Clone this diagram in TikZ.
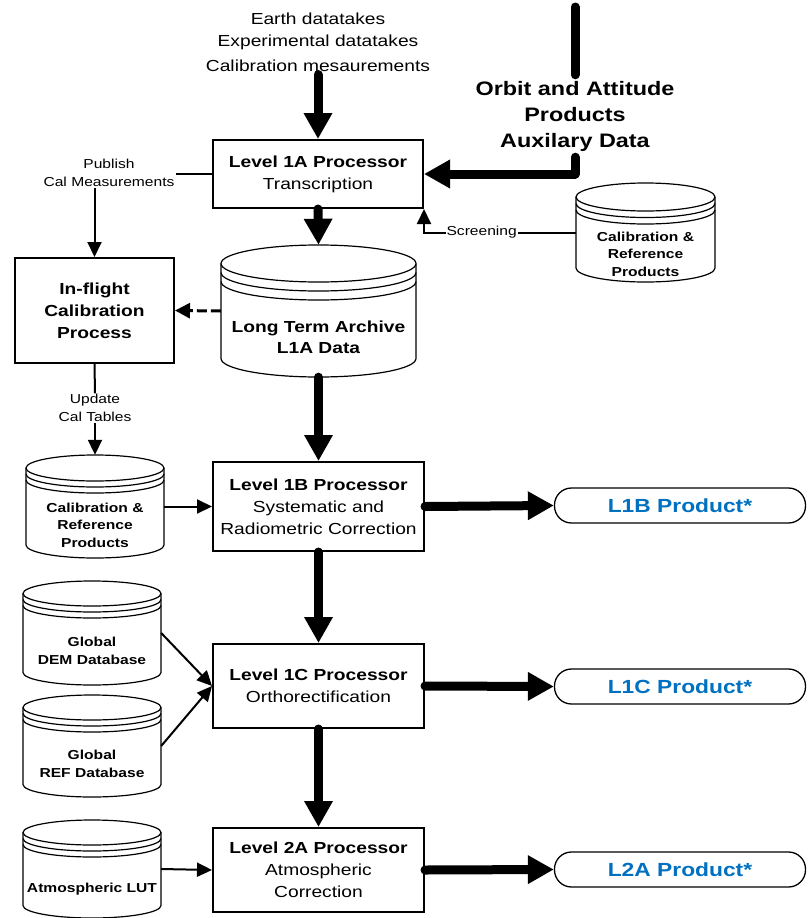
\documentclass[tikz,border=0pt]{standalone}
\usepackage{fontspec}
\setmainfont{Liberation Sans}[FakeStretch=1.2]
\usetikzlibrary{arrows.meta,calc}
\definecolor{prodblue}{HTML}{0070C0}
\newcommand\fBig{\fontsize{16}{22}\selectfont}
\newcommand\fSmall{\fontsize{13}{17.5}\selectfont}
\newcommand\fOrbit{\fontsize{19.5}{26}\selectfont\bfseries}
\newcommand\fProd{\fontsize{19}{22}\selectfont\bfseries}
% cylinder: cx, top, bottom, rx, ry, gap, name
\newcommand\drum[7]{%
  \draw[drumline] (#1-#4,#2+#5) -- (#1-#4,#3-#5)
     arc[start angle=180,end angle=360,x radius=#4pt,y radius=#5pt] -- (#1+#4,#2+#5);
  \draw[drumline] (#1,#2+#5) ellipse[x radius=#4pt,y radius=#5pt];
  \draw[drumline] (#1-#4,#2+#5+#6) arc[start angle=180,end angle=360,x radius=#4pt,y radius=#5pt];
  \draw[drumline] (#1-#4,#2+#5+2*#6) arc[start angle=180,end angle=360,x radius=#4pt,y radius=#5pt];
  \node[inner sep=0pt,minimum width={2*#4},minimum height={#3-#2}] (#7) at (#1,{(#2+#3)/2}) {};
}
\tikzset{
  proc/.style={draw,line width=2pt,minimum width=211pt,inner sep=0pt,align=center,font=\fBig},
  drumline/.style={line width=1.2pt},
  drumtext/.style={align=center,inner sep=0pt,font=\fSmall\bfseries},
  prod/.style={draw,line width=1.3pt,rounded corners=17pt,minimum width=251pt,minimum height=35pt,inner sep=0pt,font=\fProd,text=prodblue},
  bigline/.style={line width=9pt,line cap=round,line join=round},
  bigarrow/.style={line width=9pt,line cap=round,line join=round,-{Triangle[length=26pt,width=27pt]}},
  thinline/.style={line width=2pt},
  thinarrow/.style={line width=2pt,-{Triangle[length=15pt,width=14pt]}},
  dasharrow/.style={line width=3pt,dash pattern=on 10pt off 4pt,-{Triangle[length=15pt,width=15pt]}},
  lbl/.style={align=center,inner sep=1pt,font=\fSmall},
}
\begin{document}
\begin{tikzpicture}[x=1pt,y=-1pt]
\useasboundingbox (0,0) rectangle (807,918);

% processors
\node[proc,minimum width=210pt,minimum height=68pt] (l1a) at (318,174) {\textbf{Level 1A Processor}\\Transcription};
\node[proc,minimum width=159pt,minimum height=105pt] (inf) at (94.5,310.5) {\textbf{In-flight}\\\textbf{Calibration}\\\textbf{Process}};
\node[proc,minimum height=89pt] (l1b) at (318.5,506.5) {\textbf{Level 1B Processor}\\Systematic and\\Radiometric Correction};
\node[proc,minimum height=84pt] (l1c) at (318.5,686) {\textbf{Level 1C Processor}\\Orthorectification};
\node[proc,minimum height=84pt] (l2a) at (318.5,870) {\textbf{Level 2A Processor}\\Atmospheric\\Correction};

% inputs
\node[align=center,inner sep=3pt,font=\fBig] (inputs) at (318,42) {Earth datatakes\\Experimental datatakes\\[3pt]Calibration mesaurements};
\node[align=center,inner sep=0pt,minimum height=82pt,font=\fOrbit] (orbit) at (575,116) {Orbit and Attitude\\Products\\Auxilary Data};
\coordinate (otop) at (575,7);

% cylinders
\drum{318.5}{245}{377}{97.5}{18.5}{9}{lta}
\node[drumtext,font=\fontsize{16}{21.5}\selectfont\bfseries] (ltat) at (318.5,337.5) {Long Term Archive\\L1A Data};
\drum{645.5}{183}{282}{69.5}{14}{6.5}{calr}
\node[drumtext] (calrt) at (645.5,254) {Calibration \&\\Reference\\Products};
\drum{95}{455}{558}{69}{13}{6}{call}
\node[drumtext] (callt) at (95,525) {Calibration \&\\Reference\\Products};
\drum{92}{581}{685}{69}{12.5}{6}{dem}
\node[drumtext] (demt) at (92,651) {Global\\DEM Database};
\drum{92}{695}{797}{69}{12.5}{6}{ref}
\node[drumtext] (reft) at (92,764) {Global\\REF Database};
\drum{92}{820}{918}{69}{12.5}{6}{atm}
\node[drumtext] (atmt) at (92,889) {Atmospheric LUT};

% products
\node[prod] (p1b) at (680,505.5) {L1B Product*};
\node[prod] (p1c) at (680,686.5) {L1C Product*};
\node[prod] (p2a) at (680,869.5) {L2A Product*};

% labels
\node[lbl] (pub) at (109,173) {Publish\\Cal Measurements};
\node[lbl] (upd) at (95,408) {Update\\Cal Tables};

% thick flow
\draw[bigarrow] (inputs.south) -- (l1a.north);
\draw[bigline] (otop) -- (orbit.north);
\draw[bigarrow] (orbit.south) |- (l1a.east);
\draw[bigarrow] (l1a.south) -- (lta.north);
\draw[bigarrow] (lta.south) -- (l1b.north);
\draw[bigarrow] (l1b.south) -- (l1c.north);
\draw[bigarrow] (l1c.south) -- (l2a.north);
\draw[bigarrow] (l1b.east) -- (p1b.west);
\draw[bigarrow] (l1c.east) -- (p1c.west);
\draw[bigarrow] (l2a.east) -- (p2a.west);

% thin connectors
\draw[thinline] (l1a.west) -- (pub.east |- l1a.west);
\draw[thinarrow] (pub.south -| inf.north) -- (inf.north);
\draw[thinline] (inf.south) -- (upd.north);
\draw[thinarrow] (upd.south) -- (call.north);
\draw[thinarrow] (calr.west) -- node[pos=0.62,lbl,fill=white] (scr) {Screening} (l1a.south east |- calr.west) -- (l1a.south east);
\draw[dasharrow] (lta.west) -- (inf.east);
\draw[thinarrow] (call.east) -- (l1b.west);
\draw[thinarrow] (dem.east) -- (l1c.west);
\draw[thinarrow] (ref.east) -- (l1c.west);
\draw[thinarrow] (atm.east) -- (l2a.west);
\end{tikzpicture}
\end{document}
